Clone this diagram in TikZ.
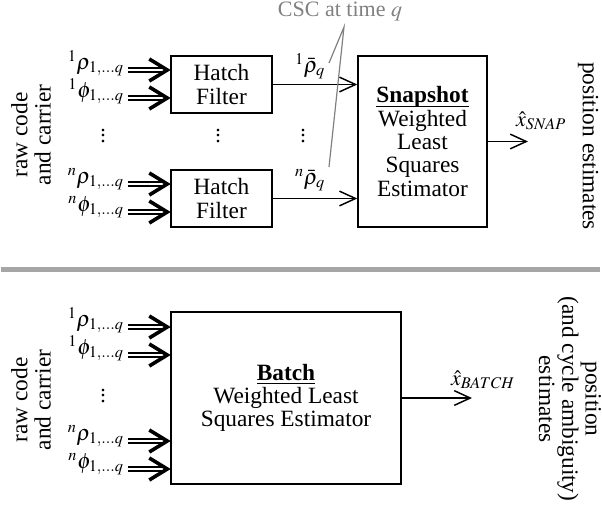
\documentclass[tikz,border=0pt]{standalone}
\usepackage{mathptmx}
\usepackage{fontspec}
\setmainfont{Liberation Serif}
\usetikzlibrary{arrows.meta,calc,positioning}
\definecolor{NoteGray}{RGB}{128,128,128}
\definecolor{RuleGray}{RGB}{166,166,166}
\newcommand\ulword[1]{\underline{\smash{#1}}\vphantom{#1}}
\tikzset{
  txt/.style={font=\fontsize{17.5}{17.5}\selectfont,inner sep=0pt},
  mth/.style={font=\fontsize{16.5}{17}\selectfont,inner sep=0pt},
  blk/.style={draw,line width=1.1pt,align=center,inner sep=0pt},
  dblshaft/.style={double,double distance=2.2pt,line width=0.8pt},
  chev/.style={line width=2.7pt,miter limit=10},
  outarr/.style={line width=1.1pt,-{Straight Barb[length=12pt,width=11pt]}}
}

\begin{document}
\begin{tikzpicture}[x=0.75pt,y=-0.75pt]
  \useasboundingbox (0,0) rectangle (602,514);
  % snapshot estimator
  \node[blk,txt,minimum width=75.75pt,minimum height=42.75pt] (hf1) at (221.5,84.5) {Hatch\\Filter};
  \node[blk,txt,minimum width=75.75pt,minimum height=42.75pt] (hf2) at (221.5,198.5) {Hatch\\Filter};
  \node[blk,txt,minimum width=96.75pt,minimum height=128.25pt] (snap) at (422.5,141.5)
    {\ulword{\textbf{Snapshot}}\\Weighted\\Least\\Squares\\Estimator};
  \coordinate (a1) at (128,70);
  \coordinate (a2) at (128,98);
  \coordinate (a3) at (128,184);
  \coordinate (a4) at (128,212);
  \node[mth,anchor=base east] (r1) at ($(a1)+(-4,-1)$) {${}^{1}\rho_{1,\ldots q}$};
  \node[mth,anchor=base east] (p1) at ($(a2)+(-4,-1)$) {${}^{1}\phi_{1,\ldots q}$};
  \node[mth,anchor=base east] (rn) at ($(a3)+(-4,-1)$) {${}^{n}\rho_{1,\ldots q}$};
  \node[mth,anchor=base east] (pn) at ($(a4)+(-4,-1)$) {${}^{n}\phi_{1,\ldots q}$};
  \node[mth] (d1) at (103,132) {$\vdots$};
  \node[mth] (d2) at (218,132) {$\vdots$};
  \node[mth] (d3) at (303,132) {$\vdots$};
  \draw[outarr] (hf1.east) -- (hf1.east -| snap.west);
  \draw[outarr] (hf2.east) -- (hf2.east -| snap.west);
  \node[mth] (rb1) at (310,66) {${}^{1}\bar{\rho}_q$};
  \node[mth] (rbn) at (310,180) {${}^{n}\bar{\rho}_q$};
  \node[mth,text=NoteGray] (csc) at (340,12) {CSC at time $q$};
  \coordinate (cscapex) at (344,27);
  \coordinate (csc1) at (329,63);
  \coordinate (cscn) at (329,167);
  \draw[NoteGray,line width=0.9pt] (csc1) -- (cscapex) -- (cscn);
  \coordinate (xs) at (528,141.5);
  \draw[outarr] (snap.east) -- (xs);
  \node[mth] (xsnap) at (541,121) {$\hat{x}_{SNAP}$};
  \node[txt,rotate=90,align=center] (raw1) at (31,135) {raw code\\and carrier};
  \node[txt,rotate=-90] (pos1) at (588,146) {position estimates};

  \draw[RuleGray,line width=3.75pt] (1,269.5) -- (600,269.5);

  % batch estimator
  \node[blk,txt,minimum width=172.5pt,minimum height=129pt] (batch) at (286,398)
    {\ulword{\textbf{Batch}}\\Weighted Least\\Squares Estimator};
  \coordinate (b1) at (128,327);
  \coordinate (b2) at (128,355);
  \coordinate (b3) at (128,441);
  \coordinate (b4) at (128,469);
  \node[mth,anchor=base east] (br1) at ($(b1)+(-4,-1)$) {${}^{1}\rho_{1,\ldots q}$};
  \node[mth,anchor=base east] (bp1) at ($(b2)+(-4,-1)$) {${}^{1}\phi_{1,\ldots q}$};
  \node[mth,anchor=base east] (brn) at ($(b3)+(-4,-1)$) {${}^{n}\rho_{1,\ldots q}$};
  \node[mth,anchor=base east] (bpn) at ($(b4)+(-4,-1)$) {${}^{n}\phi_{1,\ldots q}$};
  \node[mth] (d4) at (103,392) {$\vdots$};
  \coordinate (xb) at (472,398);
  \draw[outarr] (batch.east) -- (xb);
  \node[mth] (xbatch) at (483,380) {$\hat{x}_{BATCH}$};
  \node[txt,rotate=90,align=center] (raw2) at (31,400) {raw code\\and carrier};
  \node[txt,rotate=-90,align=center] (pos2) at (570,399) {position\\(and cycle ambiguity)\\estimates};

  % double input arrows
  \foreach \a/\b in {a1/hf1,a2/hf1,a3/hf2,a4/hf2,b1/batch,b2/batch,b3/batch,b4/batch}{
    \draw[dblshaft] (\a) -- ($(\a -| \b.west)+(-6,0)$);
    \draw[chev] ($(\a -| \b.west)+(-21,-11)$) -- ($(\a -| \b.west)+(-3,0)$) -- ($(\a -| \b.west)+(-21,11)$);
  }
\end{tikzpicture}
\end{document}
